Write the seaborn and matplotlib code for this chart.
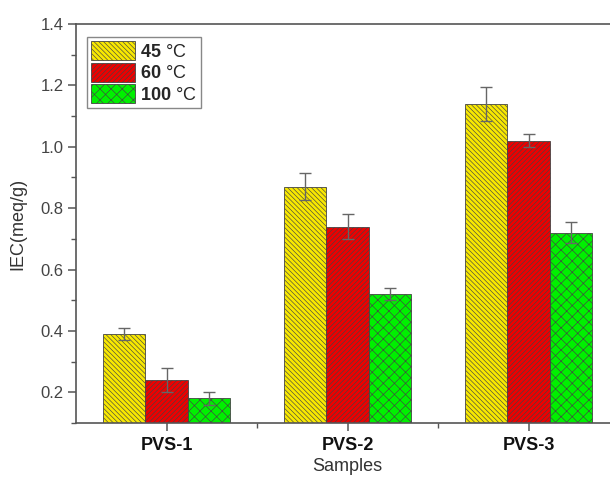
import matplotlib
matplotlib.use("Agg")
import matplotlib.pyplot as plt
from matplotlib.ticker import MultipleLocator, FixedLocator
import numpy as np
import pandas as pd
import seaborn as sns

# Ion exchange capacity of the membranes at three temperatures
samples = ["PVS-1", "PVS-2", "PVS-3"]
temps = ["45", "60", "100"]
iec_45 = [0.39, 0.87, 1.14]
iec_60 = [0.24, 0.74, 1.02]
iec_100 = [0.18, 0.52, 0.72]
err_45 = [0.02, 0.043, 0.055]
err_60 = [0.04, 0.04, 0.022]
err_100 = [0.02, 0.02, 0.035]

colors = ["#F8E800", "#EE0000", "#00F000"]
hatches = ["\\" * 7, "/" * 7, "xxx"]

sns.set_style("ticks")
plt.rcParams["font.family"] = ["Liberation Sans", "DejaVu Sans"]
plt.rcParams["mathtext.fontset"] = "custom"
plt.rcParams["mathtext.rm"] = "Liberation Sans"
plt.rcParams["mathtext.bf"] = "Liberation Sans:bold"
plt.rcParams["hatch.linewidth"] = 0.45

df = pd.DataFrame({
    "Samples": samples * 3,
    "Temp": [t for t in temps for _ in samples],
    "IEC": iec_45 + iec_60 + iec_100,
    "err": err_45 + err_60 + err_100,
})

fig = plt.figure(figsize=(6.1, 4.8), dpi=100)
ax = fig.add_axes([76 / 610, 57 / 480, 543 / 610, 399 / 480])

sns.barplot(data=df, x="Samples", y="IEC", hue="Temp", order=samples,
            hue_order=temps, palette=colors, saturation=1, width=0.7,
            errorbar=None, edgecolor="#444444", linewidth=0.6,
            legend=False, ax=ax)

errs = [err_45, err_60, err_100]
for cont, hatch, e in zip(ax.containers, hatches, errs):
    xs, ys = [], []
    for bar in cont:
        bar.set_hatch(hatch)
        xs.append(bar.get_x() + bar.get_width() / 2)
        ys.append(bar.get_height())
    ax.errorbar(xs, ys, yerr=e, fmt="none", ecolor="#666666",
                elinewidth=1.0, capsize=4, capthick=1.0, zorder=5)

ax.set_ylim(0.1, 1.4)
ax.set_xlim(-0.5, 2.5)
ax.yaxis.set_minor_locator(MultipleLocator(0.1))
ax.xaxis.set_minor_locator(FixedLocator([0.5, 1.5]))
yt = np.arange(0.2, 1.41, 0.2)
ax.set_yticks(yt)
ax.set_yticklabels([f"{v:.1f}" for v in yt])

for side in ["left", "bottom", "top", "right"]:
    ax.spines[side].set_color("#555555")
    ax.spines[side].set_linewidth(1.2)

ax.tick_params(axis="both", which="major", direction="out", length=6,
               width=1.1, color="#555555")
ax.tick_params(axis="both", which="minor", direction="out", length=3.5,
               width=1.0, color="#555555")
ax.tick_params(axis="y", labelsize=12, labelcolor="#444444", pad=3)
ax.tick_params(axis="x", labelsize=13, labelcolor="#111111", pad=4)
ax.tick_params(top=False, right=False, which="both")
for lab in ax.get_xticklabels():
    lab.set_fontweight("bold")

ax.set_xlabel("Samples", fontsize=13, color="#333333", labelpad=3)
ax.set_ylabel("IEC(meq/g)", fontsize=13, color="#333333", labelpad=10)

handles = [cont[0] for cont in ax.containers]
labels = [rf"$\mathbf{{{t}}}$ °C" for t in temps]
leg = ax.legend(handles, labels, loc="upper left",
                bbox_to_anchor=(0.02, 0.968), fontsize=13, frameon=True,
                fancybox=False, edgecolor="#888888", framealpha=1,
                handlelength=2.4, handleheight=1.25, labelspacing=0.1,
                handletextpad=0.3, borderpad=0.25, borderaxespad=0.0)
leg.get_frame().set_linewidth(1.0)

fig.savefig("out.png", dpi=100)
